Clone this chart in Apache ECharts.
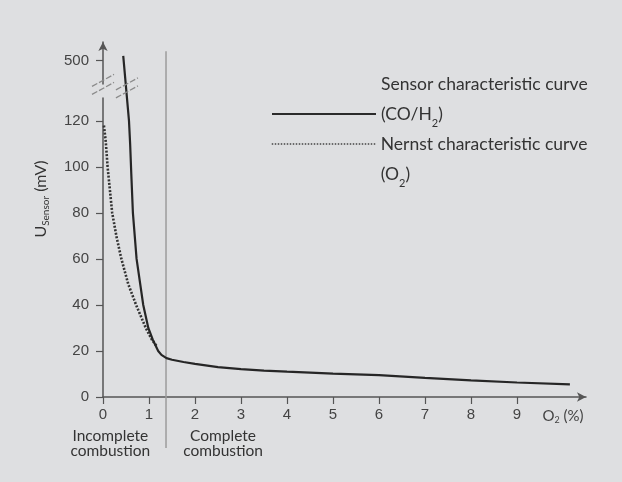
<!DOCTYPE html>
<html><head><meta charset="utf-8">
<script src="https://cdn.jsdelivr.net/npm/echarts@6/dist/echarts.min.js"></script>
<style>html,body{margin:0;padding:0;background:#fff;}#c{position:absolute;left:0;top:0;width:622px;height:482px;}</style>
</head><body><div id="c"></div>
<script>
// ---- data ----
const o2Ticks = [0, 1, 2, 3, 4, 5, 6, 7, 8, 9];
const yTicks = [0, 20, 40, 60, 80, 100, 120, 500];
const yBreak = [130, 490];
const sensorName = 'Sensor characteristic curve';
const nernstName = 'Nernst characteristic curve';
const sensorX = [0.44, 0.565, 0.59, 0.615, 0.65, 0.73, 0.875, 0.985, 1.08, 1.2, 1.27, 1.38, 1.5, 1.75, 2.0, 2.5, 3.0, 3.5, 4.0, 5.0, 6.0, 7.0, 8.0, 9.0, 10.15];
const sensorY = [502, 120, 110, 97, 80, 60, 40, 30, 25, 20, 18.3, 16.9, 16.2, 15.2, 14.4, 13.0, 12.1, 11.5, 11.0, 10.2, 9.5, 8.3, 7.2, 6.3, 5.5];
const nernstX = [0.02, 0.06, 0.1, 0.2, 0.3, 0.4, 0.55, 0.72, 0.93, 1.06, 1.17];
const nernstY = [118, 111, 100, 80, 69, 60, 49, 40, 30, 25, 22];
const boundaryO2 = 1.37;
const zoneLabels = [['Incomplete\ncombustion', 0.16], ['Complete\ncombustion', 2.61]];

const zip = (xs, ys) => xs.map((x, i) => [x, ys[i]]);
const sub = {fontFamily: 'Lato', fontSize: 10, lineHeight: 8, verticalAlign: 'bottom', color: '#333'};
const chart = echarts.init(document.getElementById('c'));
const legendBase = {
  orient: 'vertical', left: 271, padding: 0, itemWidth: 104, itemHeight: 14,
  selectedMode: false,
  itemStyle: {opacity: 0},
  textStyle: {color: '#333', rich: {a: {fontFamily: 'Lato', fontSize: 17.5, lineHeight: 30, color: '#333'}, s: Object.assign({}, sub, {fontSize: 11, lineHeight: 9})}}
};
chart.setOption({
  backgroundColor: '#dedfe1',
  animation: false,
  grid: {left: 103, right: 36, top: 42, bottom: 85, outerBoundsMode: 'none'},
  legend: [
    Object.assign({}, legendBase, {top: 75, data: [sensorName],
      lineStyle: {width: 2, color: '#2b2b2b'},
      formatter: () => '{a|Sensor characteristic curve}\n{a|(CO/H}{s|2}{a|)}\n{a| }'}),
    Object.assign({}, legendBase, {top: 105, data: [nernstName],
      lineStyle: {width: 1.5, type: [1.5, 1.5], color: '#444'},
      formatter: () => '{a| }\n{a|Nernst characteristic curve}\n{a|(O}{s|2}{a|)}'})
  ],
  xAxis: {
    type: 'value', min: 0, max: 10.5, interval: 1,
    splitLine: {show: false},
    axisLine: {lineStyle: {color: '#555', width: 1.5}, symbol: ['none', 'arrow'], symbolSize: [7, 9]},
    axisTick: {length: 7, lineStyle: {color: '#555', width: 1.2}, customValues: o2Ticks},
    axisLabel: {
      customValues: o2Ticks.concat([10]), margin: 10, color: '#444', fontFamily: 'Liberation Sans', fontSize: 15,
      formatter: v => v === 10 ? '{o|O}{s|2}{o| (%)}' : String(v),
      rich: {o: {fontFamily: 'Lato', fontSize: 15, color: '#444', lineHeight: 18}, s: Object.assign({}, sub, {fontSize: 9, color: '#444'})}
    }
  },
  yAxis: {
    type: 'value', min: 0, max: 508, interval: 20,
    breaks: [{start: yBreak[0], end: yBreak[1], gap: 6.3}],
    breakArea: {show: false},
    splitLine: {show: false},
    axisLine: {lineStyle: {color: '#555', width: 1.5}, symbol: ['none', 'arrow'], symbolSize: [7, 9]},
    axisTick: {length: 7, lineStyle: {color: '#555', width: 1.2}, customValues: yTicks},
    axisLabel: {customValues: yTicks, margin: 14, color: '#444', fontFamily: 'Liberation Sans', fontSize: 15},
    name: '{n|U}{s|Sensor}{n| (mV)}',
    nameLocation: 'middle', nameGap: 52, nameRotate: 90,
    nameTextStyle: {padding: [0, 0, 0, 41], rich: {n: {fontFamily: 'Lato', fontSize: 16, lineHeight: 20, color: '#333'}, s: sub}}
  },
  series: [
    {name: sensorName, type: 'line', data: zip(sensorX, sensorY), symbol: 'none', smooth: false,
     lineStyle: {color: '#262626', width: 2.2}, itemStyle: {color: '#262626'}, z: 3},
    {name: nernstName, type: 'line', data: zip(nernstX, nernstY), symbol: 'none', smooth: false,
     lineStyle: {color: '#333', width: 2.6, type: [2, 1.6]}, itemStyle: {color: '#333'}, z: 2}
  ]
});

// decorations positioned through the axes
const P = v => chart.convertToPixel({gridIndex: 0}, v);
const p0 = P([0, 0]);
const p500 = P([0, 500]);
const pTop = P([boundaryO2, 504]);
const slash = (cx, cy) => ({type: 'line', silent: true, z: 10,
  shape: {x1: cx - 11, y1: cy + 6, x2: cx + 11, y2: cy - 6},
  style: {stroke: '#8a8a8a', lineWidth: 1.3, lineDash: [6, 2]}});
const xCurve = P([0.52, 0])[0];
const graphics = [
  {type: 'line', silent: true, z: 1, shape: {x1: pTop[0], y1: pTop[1], x2: pTop[0], y2: p0[1] + 51},
   style: {stroke: '#9c9c9c', lineWidth: 1.5}},
  slash(p0[0], p500[1] + 20), slash(p0[0], p500[1] + 28),
  slash(xCurve, p500[1] + 23.5), slash(xCurve, p500[1] + 31.5)
];
zoneLabels.forEach(([t, x]) => {
  graphics.push({type: 'text', silent: true, x: P([x, 0])[0], y: p0[1] + 46.5,
    style: {text: t, fontFamily: 'Lato', fontSize: 15.5, lineHeight: 14.5, fill: '#333', align: 'center', verticalAlign: 'middle'}});
});
chart.setOption({graphic: graphics});
</script></body></html>
